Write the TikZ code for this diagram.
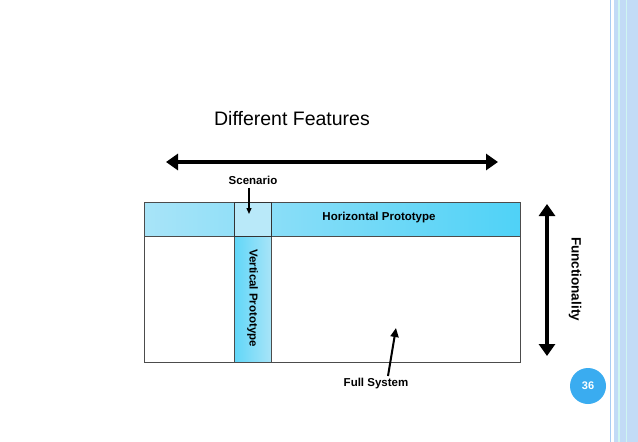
\documentclass[tikz,border=0pt]{standalone}
\usepackage{fontspec}
\setmainfont{Liberation Sans}
\usetikzlibrary{arrows.meta}
\definecolor{cyanA}{HTML}{4FD2F7}
\definecolor{cyanB}{HTML}{A8E4F8}
\definecolor{pagebl}{HTML}{3AACF0}
\definecolor{edge}{HTML}{A8CCF2}
\tikzset{lbl/.style={font=\bfseries\fontsize{11.5}{13}\selectfont},
 bigarrow/.style={line width=3.5pt,{Triangle[length=12pt,width=16pt]}-{Triangle[length=12pt,width=16pt]}}}
\begin{document}
\begin{tikzpicture}[x=1pt,y=-1pt]
\useasboundingbox (0,0) rectangle (638,442);
\fill[white] (0,0) rectangle (638,442);
% right border
\fill[edge!70] (614,0) rectangle (638,442);
\draw[edge,line width=1pt] (610,0) -- (610,442);
\draw[edge!120!blue!90,line width=1.5pt] (619,0) -- (619,442);
\draw[edge!120!blue!90,line width=1pt] (626,0) -- (626,442);
% full system box
\node[draw=black!70,line width=0.8pt,minimum width=376pt,minimum height=160pt,inner sep=0,anchor=north west] (full) at (144,202) {};
\node[draw=black!70,line width=0.6pt,minimum width=376pt,minimum height=34pt,inner sep=0,anchor=north west,left color=cyanB,right color=cyanA] (hp) at (144,202) {};
\node[draw=black!70,line width=0.6pt,minimum width=37pt,minimum height=126pt,inner sep=0,anchor=north west,left color=cyanA!90,right color=cyanB] (vp) at (234,236) {};
\node[draw=black!80,line width=0.6pt,fill=cyanB!80!white,minimum width=37pt,minimum height=34pt,inner sep=0,anchor=north west] (sc) at (234,202) {};
\node[lbl] (hpt) at (379,218) {Horizontal Prototype};
\node[lbl,rotate=-90] (vpt) at (252.5,298) {Vertical Prototype};
\node[lbl] (sct) at (253,180) {Scenario};
\draw[line width=1.3pt,-{Triangle[length=6pt,width=5pt]}] (sct.south -| 249,0) -- (249,214);
\node[lbl] (fst) at (376,384) {Full System};
\coordinate (fsend) at (396,328);
\draw[line width=2pt,-{Triangle[length=9pt,width=8pt]}] (388,376) -- (fsend);
\node[font=\fontsize{19.5}{22}\selectfont] (df) at (292,119) {Different Features};
\coordinate (l) at (166,162); \coordinate (r) at (498,162);
\draw[bigarrow] (l) -- (r);
\coordinate (t) at (547,204); \coordinate (b) at (547,356);
\draw[bigarrow] (t) -- (b);
\node[font=\bfseries\fontsize{13.5}{15}\selectfont,rotate=-90] (fn) at (575,279) {Functionality};
\node[circle,fill=pagebl,minimum size=36pt,inner sep=0,text=white,font=\bfseries\fontsize{11}{13}\selectfont] (pg) at (588,386) {36};
\end{tikzpicture}
\end{document}
